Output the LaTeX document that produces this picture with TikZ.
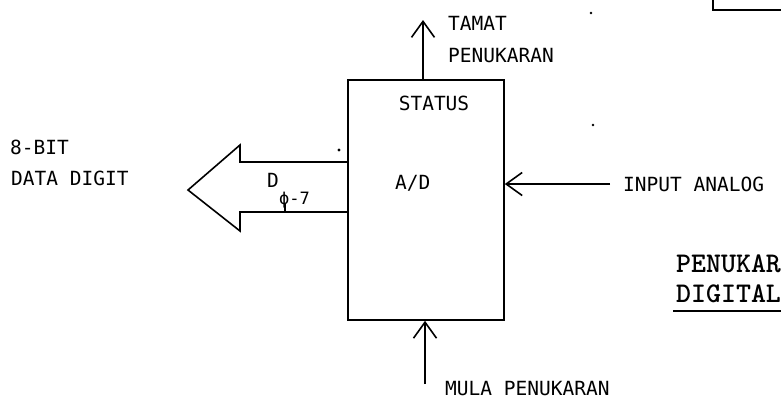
\documentclass[tikz,border=0pt]{standalone}
\usepackage{fontspec}
\usetikzlibrary{arrows.meta}
\newfontfamily\plotfont{DejaVu Sans Mono}
\begin{document}
\begin{tikzpicture}[x=1pt,y=-1pt,
  lbl/.style={inner sep=0pt, anchor=base west, font=\plotfont\fontsize{19.5}{19.5}\selectfont},
  small/.style={inner sep=0pt, anchor=base west, font=\plotfont\fontsize{17}{17}\selectfont},
  ttl/.style={inner sep=0pt, anchor=base west, font=\ttfamily\bfseries\fontsize{28.5}{28.5}\selectfont},
  heavy/.style={line width=1.6pt},
  wire/.style={heavy, -{Straight Barb[length=16pt,width=23pt]}},
  blockbox/.style={draw, heavy, minimum width=156pt, minimum height=240pt, inner sep=0pt}]
\useasboundingbox (0,0) rectangle (781,400);

% converter block
\node[blockbox] (adc) at (426,200) {};
\node[lbl, anchor=base] (status) at (434,110) {STATUS};
\node[lbl] (ad) at (395,189) {A/D};

% output: end of conversion
\coordinate (tamatEnd) at (423,20);
\draw[wire] (adc.north -| tamatEnd) -- (tamatEnd);
\node[lbl] (tamat) at (448,30) {TAMAT};
\node[lbl] (penuk1) at (448,62) {PENUKARAN};

% input: start of conversion
\coordinate (mulaStart) at (425,384);
\draw[wire] (mulaStart) -- (adc.south -| mulaStart);
\node[lbl] (mula) at (445,395) {MULA PENUKARAN};

% analog input
\coordinate (inStart) at (610,184);
\draw[wire] (inStart) -- (adc.east |- inStart);
\node[lbl] (input) at (623,191) {INPUT ANALOG};

% 8-bit data bus (fat arrow)
\draw[heavy, line join=miter] (348,162) -- (240,162) -- (240,145) -- (188,190) -- (240,231) -- (240,212) -- (348,212);
\node[lbl] (dd) at (267,187) {D};
\node[small] (d07) at (279,204) {ϕ-7};
\draw[line width=1.3pt] (d07.base west) ++(6,0) -- (285,212);
\fill (339,150) circle (1.6pt);

\node[lbl] (bit) at (10,154) {8-BIT};
\node[lbl] (datadigit) at (11,185) {DATA DIGIT};

% caption
\node[ttl] (cap1) at (676,272) {PENUKAR};
\node[ttl] (cap2) at (676,302) {DIGITAL};
\draw[line width=2pt] (673,311) -- (781,311);

% fragment of a neighbouring frame and stray marks
\draw[heavy] (713,0) -- (713,10) -- (781,10);
\fill (591,13) circle (1.3pt);
\fill (593,125) circle (1.3pt);
\end{tikzpicture}
\end{document}
